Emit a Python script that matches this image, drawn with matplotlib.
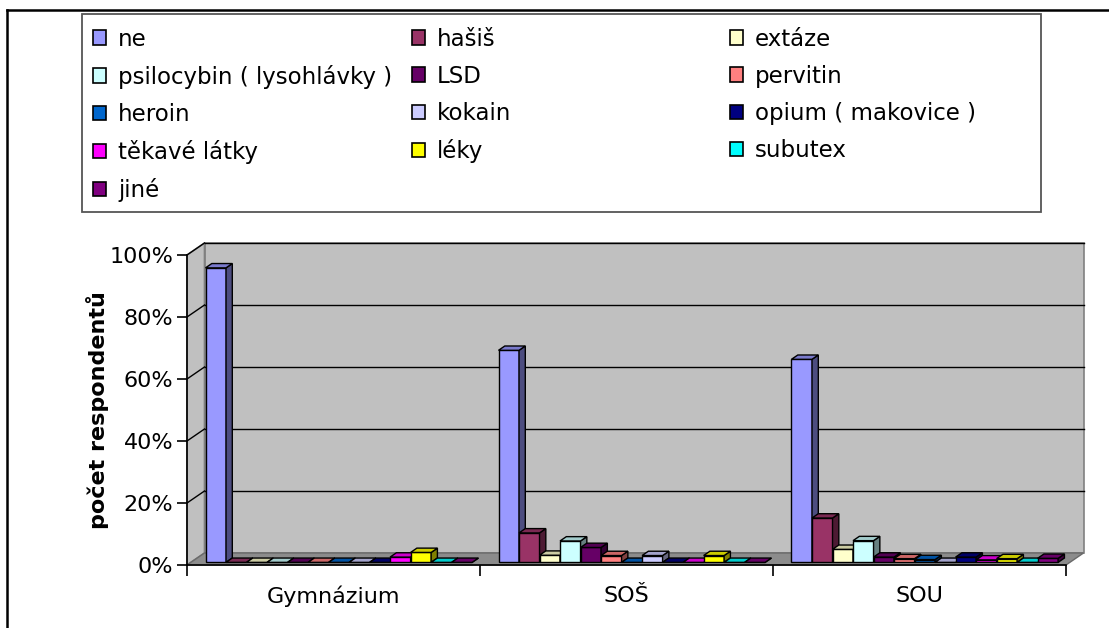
import matplotlib
matplotlib.use("Agg")
import matplotlib.pyplot as plt
from matplotlib.patches import Polygon, Rectangle, Patch
from matplotlib.lines import Line2D
from matplotlib.ticker import FuncFormatter
import numpy as np

# survey data: share of respondents per school type (percent)
schools = ["Gymnázium", "SOŠ", "SOU"]
substances = ["ne", "hašiš", "extáze", "psilocybin ( lysohlávky )", "LSD",
              "pervitin", "heroin", "kokain", "opium ( makovice )",
              "těkavé látky", "léky", "subutex", "jiné"]
gymnazium = [95.0, 0, 0, 0, 0, 0, 0, 0, 0, 1.7, 3.2, 0, 0]
sos = [68.4, 9.5, 2.3, 6.9, 4.8, 2.2, 0, 2.2, 0, 0, 2.2, 0, 0]
sou = [65.5, 14.3, 4.2, 7.0, 1.7, 1.2, 0.9, 0, 1.7, 0.8, 1.2, 0, 1.3]
colors = ["#9999FF", "#993366", "#FFFFCC", "#CCFFFF", "#660066", "#FF8080",
          "#0066CC", "#CCCCFF", "#000080", "#FF00FF", "#FFFF00", "#00FFFF",
          "#800080"]

values = np.array([gymnazium, sos, sou])

W, H = 1109, 628
fig = plt.figure(figsize=(W / 100, H / 100), dpi=100)
fig.patch.set_facecolor("white")

# front plane of the 3D box
ax = fig.add_axes([187 / W, (H - 565) / H, 879 / W, 310 / H])
ax.set_xlim(0, 3)
ax.set_ylim(0, 100)
ax.patch.set_visible(False)

DX, DY = 17.5 / 293, 12 / 3.1      # depth offset of the back wall
F0, F1 = 0.22, 0.58                 # bar depth range (fraction of box depth)
BW, START = 0.07, 0.05              # bar width, offset in the category


def shade(c, k):
    r, g, b = matplotlib.colors.to_rgb(c)
    return (r * k, g * k, b * k)


def poly(pts, fc, ec, lw=1.0, z=1):
    ax.add_patch(Polygon(pts, closed=True, facecolor=fc, edgecolor=ec,
                         linewidth=lw, clip_on=False, zorder=z))


# walls and floor
poly([(DX, DY), (3 + DX, DY), (3 + DX, 100 + DY), (DX, 100 + DY)], "#C0C0C0", "#808080", 1.2)
poly([(0, 0), (DX, DY), (DX, 100 + DY), (0, 100)], "#C0C0C0", "#808080", 1.2)
poly([(0, 0), (3, 0), (3 + DX, DY), (DX, DY)], "#8C8C8C", "#6a6a6a", 1.0)

for v in range(20, 101, 20):
    ax.plot([DX, 3 + DX], [v + DY, v + DY], color="black", lw=1.0, clip_on=False, zorder=1.5)
    ax.plot([0, DX], [v, v + DY], color="black", lw=1.0, clip_on=False, zorder=1.5)

# 3D-looking columns, painted left to right
for ci in range(len(schools)):
    for si in range(len(substances)):
        v = values[ci, si]
        c = colors[si]
        x0 = ci + START + si * BW
        xa, xb = x0 + F0 * DX, x0 + BW + F0 * DX
        ya = F0 * DY
        sx, sy = (F1 - F0) * DX, (F1 - F0) * DY
        poly([(xa, ya), (xb, ya), (xb, ya + v), (xa, ya + v)], c, "black", 1.0, 3)
        poly([(xb, ya), (xb + sx, ya + sy), (xb + sx, ya + sy + v), (xb, ya + v)],
             shade(c, 0.5), "black", 1.0, 3)
        poly([(xa, ya + v), (xb, ya + v), (xb + sx, ya + sy + v), (xa + sx, ya + sy + v)],
             shade(c, 0.8), "black", 1.0, 3)

# axes, ticks and labels
for side in ["top", "right"]:
    ax.spines[side].set_visible(False)
ax.spines["left"].set_linewidth(1.2)
ax.spines["bottom"].set_linewidth(1.2)
ax.set_yticks(range(0, 101, 20))
ax.yaxis.set_major_formatter(FuncFormatter(lambda y, _: f"{int(y)}%"))
ax.tick_params(axis="y", direction="out", length=7, width=1.2, labelsize=16, pad=3)
ax.set_xticks([0, 1, 2, 3])
ax.set_xticklabels([])
ax.set_xticks([0.5, 1.5, 2.5], minor=True)
ax.set_xticklabels(schools, minor=True)
ax.tick_params(axis="x", which="major", direction="out", length=8, width=1.2)
ax.tick_params(axis="x", which="minor", length=0, labelsize=16, pad=15)
ax.set_ylabel("počet respondentů", fontsize=16, fontweight="bold", labelpad=0)

# legend: three columns, filled row by row
col_x = [93, 412, 730]
for c in range(3):
    idx = list(range(c, len(substances), 3))
    handles = [Patch(facecolor=colors[i], edgecolor="black", linewidth=1.2) for i in idx]
    fig.legend(handles, [substances[i] for i in idx], loc="upper left",
               bbox_to_anchor=(col_x[c] / W, 1 - 27.5 / H), frameon=False,
               fontsize=16.5, handlelength=0.58, handleheight=0.58,
               handletextpad=0.52, labelspacing=0.62, borderpad=0,
               borderaxespad=0)
fig.add_artist(Rectangle((82 / W, 1 - 212 / H), (1041 - 82) / W, (212 - 14) / H,
                         transform=fig.transFigure, fill=False,
                         edgecolor="#555555", linewidth=1.3))

# outer chart border
fig.add_artist(Line2D([7 / W, 1], [1 - 10 / H, 1 - 10 / H], transform=fig.transFigure,
                      color="black", lw=1.8))
fig.add_artist(Line2D([7 / W, 7 / W], [0, 1 - 10 / H], transform=fig.transFigure,
                      color="black", lw=1.8))

fig.savefig("out.png", dpi=100)
